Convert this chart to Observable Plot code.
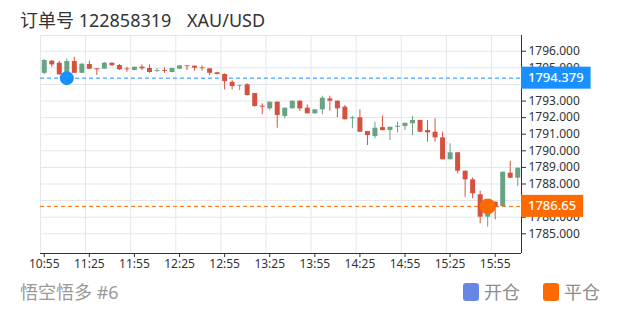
<!DOCTYPE html>
<html><head><meta charset="utf-8">
<script src="https://cdn.jsdelivr.net/npm/d3@7"></script>
<script src="https://cdn.jsdelivr.net/npm/@observablehq/plot@0.6"></script>
<style>
body{margin:0;background:#fff;}
#wrap{position:relative;width:620px;height:310px;font-family:"Noto Sans","Noto Sans CJK SC",sans-serif;overflow:hidden;}
#title{position:absolute;left:20px;top:7px;font-size:18px;color:#333;white-space:pre;line-height:26px;}
#title .sym{position:absolute;left:167px;top:0;}
#chart{position:absolute;left:0;top:30px;}
.foot{position:absolute;font-size:18px;line-height:26px;white-space:pre;}
#sub{left:20px;top:279px;color:#9a9a9a;}
.sw{position:absolute;width:16px;height:18px;border-radius:3px;top:283px;}
</style></head><body>
<div id="wrap">
  <div id="title"><span>订单号 122858319</span><span class="sym">XAU/USD</span></div>
  <div id="chart"></div>
  <div class="foot" id="sub">悟空悟多 #6</div>
  <div class="sw" style="left:463px;background:#6687e2;"></div>
  <div class="foot" style="left:484px;top:279px;color:#8c8c8c;">开仓</div>
  <div class="sw" style="left:543px;background:#ff6a00;"></div>
  <div class="foot" style="left:564px;top:279px;color:#8c8c8c;">平仓</div>
</div>
<script>
// ---- data ----
const times = ["10:55","11:00","11:05","11:10","11:15","11:20","11:25","11:30","11:35","11:40","11:45","11:50",
  "11:55","12:00","12:05","12:10","12:15","12:20","12:25","12:30","12:35","12:40","12:45","12:50",
  "12:55","13:00","13:05","13:10","13:15","13:20","13:25","13:30","13:35","13:40","13:45","13:50",
  "13:55","14:00","14:05","14:10","14:15","14:20","14:25","14:30","14:35","14:40","14:45","14:50",
  "14:55","15:00","15:05","15:10","15:15","15:20","15:25","15:30","15:35","15:40","15:45","15:50",
  "15:55","16:00","16:05","16:10"];
const open  = [1794.67,1795.40,1795.28,1794.67,1795.38,1794.67,1795.20,1794.94,1794.92,1795.28,1795.14,1794.93,
  1794.84,1795.04,1794.96,1794.79,1794.84,1794.72,1794.92,1795.12,1795.10,1795.00,1794.94,1794.70,
  1794.60,1794.13,1793.89,1793.98,1793.45,1792.69,1792.53,1792.93,1792.07,1792.53,1792.99,1792.57,
  1792.23,1792.47,1793.13,1792.99,1792.63,1791.93,1791.99,1791.16,1790.86,1791.40,1791.22,1791.42,
  1791.46,1791.63,1791.83,1791.22,1791.12,1790.78,1789.46,1789.88,1788.77,1788.25,1787.35,1786.00,
  1786.90,1786.64,1788.65,1788.35];
const high  = [1795.50,1795.44,1795.40,1795.54,1795.64,1795.26,1795.40,1794.96,1795.32,1795.29,1795.20,1795.04,
  1795.05,1795.18,1795.18,1794.96,1795.00,1794.99,1795.14,1795.13,1795.11,1795.12,1794.96,1794.72,
  1794.64,1794.23,1793.95,1794.04,1793.47,1792.83,1792.94,1792.94,1792.58,1793.00,1793.00,1792.77,
  1792.49,1793.29,1793.29,1793.00,1792.73,1792.07,1792.47,1791.17,1791.72,1792.10,1791.43,1791.72,
  1791.67,1792.07,1791.84,1791.83,1791.93,1791.12,1790.42,1789.90,1788.78,1788.37,1787.57,1786.34,
  1786.92,1788.72,1789.36,1788.96];
const low   = [1794.58,1795.04,1794.54,1794.66,1794.66,1794.66,1794.90,1794.54,1794.90,1795.11,1794.84,1794.73,
  1794.82,1794.84,1794.67,1794.72,1794.67,1794.70,1794.90,1794.84,1794.80,1794.80,1794.52,1794.58,
  1793.67,1793.67,1793.63,1793.31,1792.63,1792.17,1792.43,1791.36,1791.93,1792.52,1792.37,1792.22,
  1792.22,1792.17,1792.39,1791.99,1791.86,1791.33,1791.10,1790.32,1790.72,1791.20,1790.62,1791.08,
  1791.22,1790.92,1791.10,1790.52,1790.52,1789.45,1789.45,1788.61,1787.20,1787.11,1785.60,1785.40,
  1785.84,1786.61,1788.33,1787.85];
const close = [1795.44,1795.18,1794.58,1795.38,1794.67,1795.22,1794.92,1794.88,1795.28,1795.12,1794.88,1794.88,
  1795.04,1794.94,1794.72,1794.84,1794.79,1794.96,1795.12,1795.07,1794.98,1794.95,1794.67,1794.60,
  1794.17,1793.87,1793.93,1793.33,1792.67,1792.63,1792.93,1792.13,1792.57,1792.99,1792.53,1792.23,
  1792.47,1793.17,1792.99,1792.53,1791.87,1791.99,1791.12,1790.92,1791.36,1791.22,1791.42,1791.48,
  1791.66,1791.83,1791.12,1791.08,1790.78,1789.46,1789.88,1788.77,1788.25,1787.41,1786.00,1786.30,
  1786.60,1788.71,1788.35,1788.95];
const xTickLabels = ["10:55","11:25","11:55","12:25","12:55","13:25","13:55","14:25","14:55","15:25","15:55"];
const yTicks = [1785,1786,1787,1788,1789,1790,1791,1792,1793,1794,1795,1796];
const entryTime = "11:10", entryPrice = 1794.379, entryLabel = "1794.379";
const exitTime = "15:50",  exitPrice = 1786.65,  exitLabel = "1786.65";

// ---- build ----
const candles = times.map((t, i) => ({i, t, o: open[i], h: high[i], l: low[i], c: close[i]}));
const GREEN = "#6aa284", RED = "#d5513f", GRID = "#e3e6ec", BLUE = "#1890ff", ORANGE = "#ff6a00";
const col = d => d.c >= d.o ? GREEN : RED;
const xDomain = [-0.5, times.length - 0.5];
const yDomain = [1783.81, 1796.95];
const tickPos = xTickLabels.map(s => times.indexOf(s));
const bounds = tickPos.map(i => i - 0.5);

const chart = Plot.plot({
  width: 620, height: 245,
  marginTop: 5, marginBottom: 22, marginLeft: 40, marginRight: 99,
  x: {type: "linear", domain: xDomain, axis: null},
  y: {domain: yDomain, axis: null},
  color: {type: "identity"},
  style: {fontFamily: '"Noto Sans","Noto Sans CJK SC",sans-serif', fontSize: "12px", color: "#333", background: "#fff"},
  marks: [
    Plot.ruleY(yTicks, {stroke: GRID}),
    Plot.ruleY([yDomain[1]], {stroke: GRID}),
    Plot.ruleX(bounds, {stroke: GRID}),
    Plot.ruleY([entryPrice], {stroke: BLUE, strokeDasharray: "4,3"}),
    Plot.ruleY([exitPrice], {stroke: ORANGE, strokeDasharray: "4,3"}),
    Plot.ruleX(candles, {x: "i", y1: "l", y2: "h", stroke: col, strokeWidth: 1}),
    Plot.ruleX(candles, {x: "i", y1: "o", y2: "c", stroke: col, strokeWidth: 5, strokeLinecap: "butt"}),
    Plot.dot([{i: times.indexOf(entryTime), p: entryPrice}], {x: "i", y: "p", r: 7, fill: BLUE, stroke: "none"}),
    Plot.dot([{i: times.indexOf(exitTime), p: exitPrice}], {x: "i", y: "p", r: 8, fill: ORANGE, stroke: "none"}),
    Plot.ruleY([yDomain[0]], {stroke: "#333"}),
    Plot.ruleX([xDomain[1]], {stroke: "#333"}),
    Plot.axisX({ticks: tickPos, tickFormat: i => times[i], tickSize: 4, tickPadding: 2, fontSize: 12, label: null}),
    Plot.axisY({anchor: "right", ticks: yTicks, tickFormat: d3.format(".3f"), tickSize: 4, tickPadding: 3, fontSize: 12, label: null})
  ]
});
document.getElementById("chart").appendChild(chart);

// price tags on the right axis
const sx = chart.scale("x"), sy = chart.scale("y");
const svg = d3.select(chart);
[[entryPrice, entryLabel, BLUE], [exitPrice, exitLabel, ORANGE]].forEach(([p, label, c]) => {
  const y = sy.apply(p), x0 = sx.apply(xDomain[1]);
  const g = svg.append("g").attr("text-anchor", "start");
  const r = g.append("rect").attr("fill", c);
  const t = g.append("text").text(label).attr("x", x0 + 7).attr("y", y).attr("dy", "0.35em")
    .attr("text-anchor", "start").attr("fill", "#fff").attr("font-size", 13).attr("font-weight", 500);
  const w = t.node().getComputedTextLength();
  r.attr("x", x0).attr("y", y - 11).attr("width", w + 14).attr("height", 22);
});
</script>
</body></html>
